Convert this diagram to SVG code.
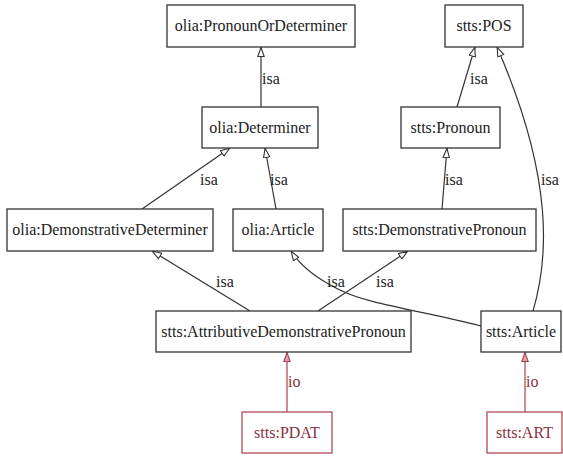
<svg xmlns="http://www.w3.org/2000/svg" width="563" height="457" viewBox="0 0 563 457">
  <defs>
    <!-- hollow "isa" arrowhead and the red one used by instance links -->
    <marker id="isa" viewBox="0 0 10 8" refX="10" refY="4" markerWidth="10" markerHeight="8" markerUnits="userSpaceOnUse" orient="auto">
      <path d="M0.5,0.8 L9.5,4 L0.5,7.2 Z" fill="#ffffff" stroke="#333333" stroke-width="1.1"/>
    </marker>
    <marker id="ioArrow" viewBox="0 0 10 8" refX="10" refY="4" markerWidth="10" markerHeight="8" markerUnits="userSpaceOnUse" orient="auto">
      <path d="M0.5,0.8 L9.5,4 L0.5,7.2 Z" fill="#e8a0a8" stroke="#a84050" stroke-width="1.1"/>
    </marker>
  </defs>

  <rect width="563" height="457" fill="#ffffff"/>

  <!-- connectors -->
  <g id="connectors" fill="none" stroke="#333333" stroke-width="1.2" marker-end="url(#isa)">
    <path d="M261,107 L261,47"/>
    <path d="M142,209 L230,148"/>
    <path d="M276,209 L265,148"/>
    <path d="M457,107 L475,47"/>
    <path d="M442,209 L447,148"/>
    <path d="M533,311 C548,260 555,180 497,47"/>
    <path d="M250,311 L152,251"/>
    <path d="M481,326 C420,310 370,305 340,290 C315,278 300,265 291,251"/>
    <path d="M318,311 L408,251"/>
    <path d="M287,412 L287,352" stroke="#a84050" marker-end="url(#ioArrow)"/>
    <path d="M525,412 L525,352" stroke="#a84050" marker-end="url(#ioArrow)"/>

    <g stroke="none" marker-end="none" fill="#222222">
      <text x="262" y="84" style="font-family: 'Liberation Serif', serif; font-size: 16px">isa</text>
      <text x="200" y="185" style="font-family: 'Liberation Serif', serif; font-size: 16px">isa</text>
      <text x="270" y="185" style="font-family: 'Liberation Serif', serif; font-size: 16px">isa</text>
      <text x="470" y="84" style="font-family: 'Liberation Serif', serif; font-size: 16px">isa</text>
      <text x="445" y="185" style="font-family: 'Liberation Serif', serif; font-size: 16px">isa</text>
      <text x="541" y="185" style="font-family: 'Liberation Serif', serif; font-size: 16px">isa</text>
      <text x="216" y="287" style="font-family: 'Liberation Serif', serif; font-size: 16px">isa</text>
      <text x="327" y="287" style="font-family: 'Liberation Serif', serif; font-size: 16px">isa</text>
      <text x="376" y="287" style="font-family: 'Liberation Serif', serif; font-size: 16px">isa</text>
      <text x="288" y="387" fill="#8a3040" style="font-family: 'Liberation Serif', serif; font-size: 16px">io</text>
      <text x="526" y="387" fill="#8a3040" style="font-family: 'Liberation Serif', serif; font-size: 16px">io</text>
    </g>
  </g>

  <!-- nodes -->
  <g id="olia-PronounOrDeterminer">
    <rect x="167" y="5" width="188" height="42" fill="#ffffff" stroke="#333333" stroke-width="1.3"/>
    <text x="261" y="31" fill="#222222" text-anchor="middle" style="font-family: 'Liberation Serif', serif; font-size: 16px">olia:PronounOrDeterminer</text>
  </g>
  <g id="stts-POS">
    <rect x="445" y="5" width="78" height="42" fill="#ffffff" stroke="#333333" stroke-width="1.3"/>
    <text x="484" y="31" fill="#222222" text-anchor="middle" style="font-family: 'Liberation Serif', serif; font-size: 16px">stts:POS</text>
  </g>
  <g id="olia-Determiner">
    <rect x="202" y="107" width="116" height="41" fill="#ffffff" stroke="#333333" stroke-width="1.3"/>
    <text x="260" y="133" fill="#222222" text-anchor="middle" style="font-family: 'Liberation Serif', serif; font-size: 16px">olia:Determiner</text>
  </g>
  <g id="stts-Pronoun">
    <rect x="401" y="107" width="99" height="41" fill="#ffffff" stroke="#333333" stroke-width="1.3"/>
    <text x="450.5" y="133" fill="#222222" text-anchor="middle" style="font-family: 'Liberation Serif', serif; font-size: 16px">stts:Pronoun</text>
  </g>
  <g id="olia-DemonstrativeDeterminer">
    <rect x="7" y="209" width="206" height="42" fill="#ffffff" stroke="#333333" stroke-width="1.3"/>
    <text x="110" y="235" fill="#222222" text-anchor="middle" style="font-family: 'Liberation Serif', serif; font-size: 16px">olia:DemonstrativeDeterminer</text>
  </g>
  <g id="olia-Article">
    <rect x="233" y="209" width="90" height="42" fill="#ffffff" stroke="#333333" stroke-width="1.3"/>
    <text x="278" y="235" fill="#222222" text-anchor="middle" style="font-family: 'Liberation Serif', serif; font-size: 16px">olia:Article</text>
  </g>
  <g id="stts-DemonstrativePronoun">
    <rect x="343" y="209" width="193" height="42" fill="#ffffff" stroke="#333333" stroke-width="1.3"/>
    <text x="439.5" y="235" fill="#222222" text-anchor="middle" style="font-family: 'Liberation Serif', serif; font-size: 16px">stts:DemonstrativePronoun</text>
  </g>
  <g id="stts-AttributiveDemonstrativePronoun">
    <rect x="156" y="311" width="255" height="41" fill="#ffffff" stroke="#333333" stroke-width="1.3"/>
    <text x="283.5" y="337" fill="#222222" text-anchor="middle" style="font-family: 'Liberation Serif', serif; font-size: 16px">stts:AttributiveDemonstrativePronoun</text>
  </g>
  <g id="stts-Article">
    <rect x="481" y="311" width="80" height="41" fill="#ffffff" stroke="#333333" stroke-width="1.3"/>
    <text x="521" y="337" fill="#222222" text-anchor="middle" style="font-family: 'Liberation Serif', serif; font-size: 16px">stts:Article</text>
  </g>
  <g id="stts-PDAT">
    <rect x="242" y="412" width="90" height="41" fill="#ffffff" stroke="#b04a58" stroke-width="1.3"/>
    <text x="287" y="438" fill="#8a3040" text-anchor="middle" style="font-family: 'Liberation Serif', serif; font-size: 16px">stts:PDAT</text>
  </g>
  <g id="stts-ART">
    <rect x="487" y="412" width="75" height="41" fill="#ffffff" stroke="#b04a58" stroke-width="1.3"/>
    <text x="524.5" y="438" fill="#8a3040" text-anchor="middle" style="font-family: 'Liberation Serif', serif; font-size: 16px">stts:ART</text>
  </g>
</svg>
